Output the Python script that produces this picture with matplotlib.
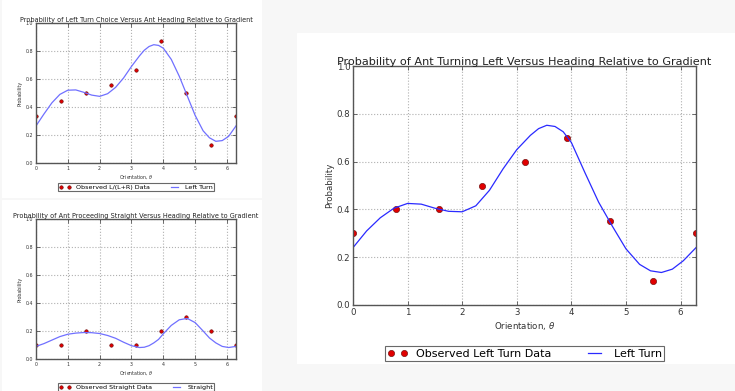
import matplotlib
matplotlib.use("Agg")
import matplotlib.pyplot as plt
import numpy as np

# observed data, sampled every 45 degrees
theta_obs = [0, np.pi / 4, np.pi / 2, 3 * np.pi / 4, np.pi,
             5 * np.pi / 4, 3 * np.pi / 2, 7 * np.pi / 4, 2 * np.pi]
left_lr = [0.333, 0.444, 0.5, 0.556, 0.667, 0.875, 0.5, 0.125, 0.333]
straight_obs = [0.1, 0.1, 0.2, 0.1, 0.1, 0.2, 0.3, 0.2, 0.1]
left_obs = [0.3, 0.4, 0.4, 0.5, 0.6, 0.7, 0.35, 0.1, 0.3]

# fitted curves
theta_fit = [0, 0.25, 0.5, 0.75, 1.0, 1.25, 1.5, 1.75, 2.0, 2.25, 2.5, 2.75, 3.0,
             3.25, 3.4, 3.55, 3.7, 3.85, 4.0, 4.25, 4.5, 4.75, 5.0, 5.25, 5.45,
             5.65, 5.85, 6.05, 2 * np.pi]
left_lr_fit = [0.265, 0.35, 0.43, 0.49, 0.52, 0.522, 0.505, 0.485, 0.476, 0.495, 0.54,
               0.607, 0.69, 0.765, 0.805, 0.832, 0.845, 0.84, 0.82, 0.74, 0.62, 0.48,
               0.34, 0.23, 0.18, 0.155, 0.16, 0.19, 0.265]
straight_fit = [0.09, 0.11, 0.135, 0.16, 0.177, 0.185, 0.189, 0.188, 0.182, 0.168, 0.148,
                0.12, 0.095, 0.082, 0.084, 0.095, 0.115, 0.14, 0.18, 0.24, 0.28, 0.29,
                0.26, 0.2, 0.15, 0.115, 0.09, 0.082, 0.09]
left_fit = [0.24, 0.31, 0.365, 0.405, 0.425, 0.422, 0.405, 0.392, 0.39, 0.415, 0.48,
            0.57, 0.65, 0.71, 0.738, 0.752, 0.747, 0.725, 0.68, 0.553, 0.43, 0.33,
            0.235, 0.17, 0.143, 0.136, 0.15, 0.185, 0.24]

W, H = 735, 391
fig = plt.figure(figsize=(W / 100, H / 100), dpi=100)
fig.patch.set_facecolor("#f7f7f7")

# white card behind each chart
for l, b, w, h in [(2, 193, 260, 198), (2, 0, 260, 191), (297, 27, 438, 331)]:
    card = fig.add_axes([l / W, b / H, w / W, h / H])
    card.set_axis_off()
    card.add_patch(plt.Rectangle((0, 0), 1, 1, color="white", transform=card.transAxes))


def panel(rect, y_obs, y_fit, title, obs_label, fit_label, fs, tfs, lfs, ms,
          line_color, leg_y):
    ax = fig.add_axes([rect[0] / W, rect[1] / H, rect[2] / W, rect[3] / H])
    ax.plot(theta_obs, y_obs, "o", color="#e00000", mec="#600000", mew=0.4,
            ms=ms, label=obs_label)
    ax.plot(theta_fit, y_fit, "-", color=line_color, lw=0.9, label=fit_label)
    ax.set_xlim(0, 2 * np.pi)
    ax.set_ylim(0, 1)
    ax.set_xticks(range(7))
    ax.set_yticks(np.arange(0, 1.01, 0.2))
    ax.set_yticklabels(["%.1f" % v for v in np.arange(0, 1.01, 0.2)])
    ax.grid(True, color="#b0b0b0", linestyle=":", linewidth=0.8)
    ax.tick_params(direction="in", labelsize=fs, length=3, width=0.5, pad=2,
                   top=True, right=True, colors="#333333")
    for s in ax.spines.values():
        s.set_color("#555555")
        s.set_linewidth(1.0)
    ax.set_title(title, fontsize=tfs, pad=1, color="#222222")
    ax.set_xlabel(r"Orientation, $\theta$", fontsize=fs, labelpad=2, color="#333333")
    ax.set_ylabel("Probability", fontsize=fs, labelpad=2, color="#333333")
    leg = ax.legend(loc="upper center", bbox_to_anchor=(0.5, leg_y), ncol=2,
                    numpoints=2, fontsize=lfs, fancybox=False, handlelength=1.8,
                    columnspacing=3, borderpad=0.2, handletextpad=0.8)
    leg.get_frame().set_edgecolor("#444444")
    leg.get_frame().set_linewidth(0.8)
    return ax


panel((36, 228, 200, 140), left_lr, left_lr_fit,
      "Probability of Left Turn Choice Versus Ant Heading Relative to Gradient",
      "Observed L/(L+R) Data", "Left Turn", 3.4, 4.7, 4.6, 2.5, "#7070ff", -0.12)
panel((36, 32, 200, 140), straight_obs, straight_fit,
      "Probability of Ant Proceeding Straight Versus Heading Relative to Gradient",
      "Observed Straight Data", "Straight", 3.4, 4.7, 4.6, 2.5, "#7070ff", -0.15)
panel((353, 86, 343, 239), left_obs, left_fit,
      "Probability of Ant Turning Left Versus Heading Relative to Gradient",
      "Observed Left Turn Data", "Left Turn", 6.2, 8.1, 8.0, 4.5, "#2a2aff", -0.15)

fig.savefig("out.png", dpi=100, facecolor=fig.get_facecolor())
